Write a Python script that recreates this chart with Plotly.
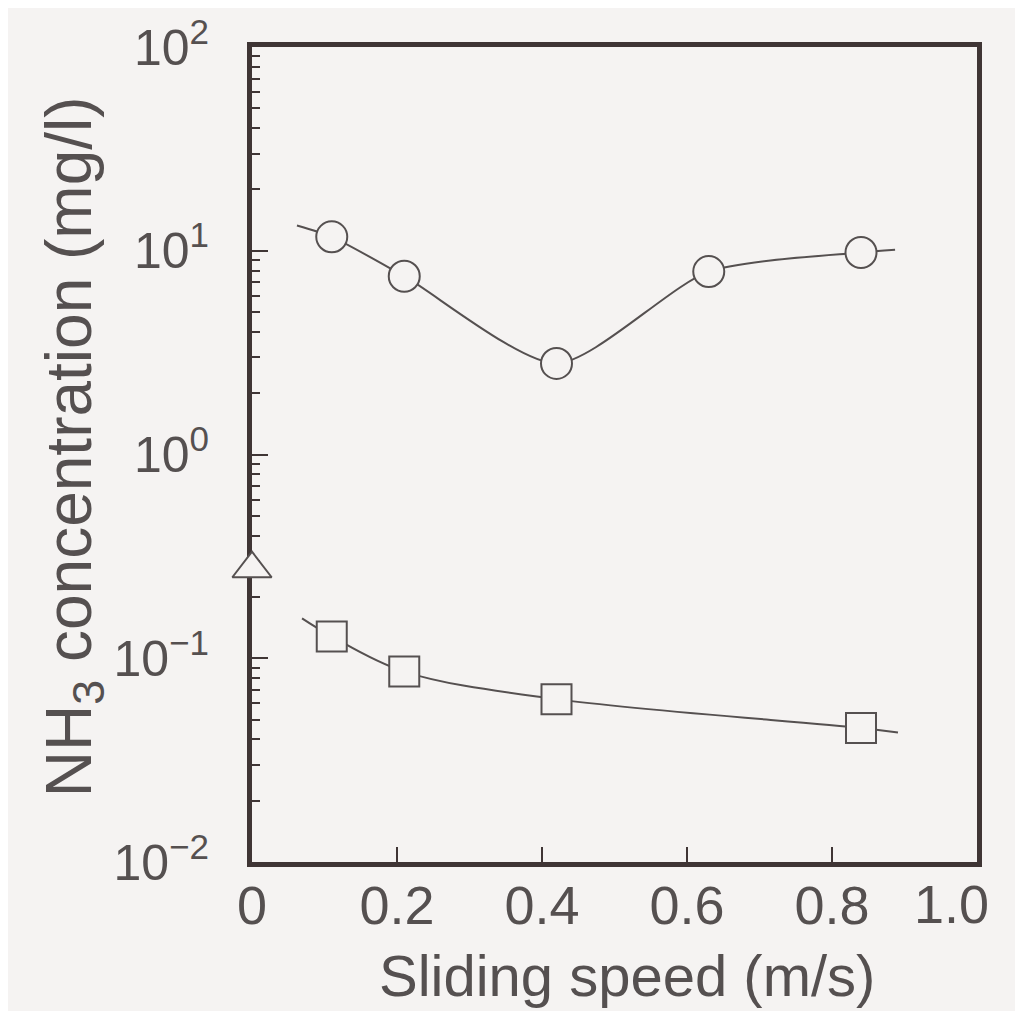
import plotly.graph_objects as go

# ---- data ----
speed_circle = [0.11, 0.21, 0.42, 0.63, 0.84]
conc_circle = [11.7, 7.5, 2.8, 7.9, 9.8]

speed_square = [0.11, 0.21, 0.42, 0.84]
conc_square = [0.128, 0.086, 0.063, 0.0455]

speed_triangle = [0.0]
conc_triangle = [0.275]

# fitted-curve extents (curve drawn through the points, slightly beyond)
curve_circle_x = [0.062, 0.11, 0.21, 0.42, 0.63, 0.84, 0.887]
curve_circle_y = [13.3, 11.7, 7.5, 2.8, 7.9, 9.8, 10.1]
curve_square_x = [0.069, 0.11, 0.21, 0.42, 0.84, 0.891]
curve_square_y = [0.157, 0.128, 0.086, 0.063, 0.0455, 0.0432]

x_tickvals = [0, 0.2, 0.4, 0.6, 0.8, 1.0]
x_ticktext = ["0", "0.2", "0.4", "0.6", "0.8", ""]
x_last_label = "1.0"
y_tickvals = [0.01, 0.1, 1, 10, 100]
y_ticktext = ["10<sup>\u22122</sup>", "10<sup>\u22121</sup>", "10<sup>0</sup>",
              "10<sup>1</sup>", "10<sup>2</sup>"]
y_minor = [m * 10 ** e for e in (-2, -1, 0, 1) for m in range(2, 10)]

x_title = "Sliding speed (m/s)"
y_title = "NH<sub>3</sub> concentration (mg/l)"

BG = "#f5f3f2"
INK = "#555050"
FRAME = "#3f3535"
FONT = "Liberation Sans, Arial, Helvetica, sans-serif"

fig = go.Figure()

fig.add_trace(go.Scatter(x=curve_circle_x, y=curve_circle_y, mode="lines",
                         line=dict(color=INK, width=2, shape="spline", smoothing=0.7),
                         hoverinfo="skip", showlegend=False))
fig.add_trace(go.Scatter(x=curve_square_x, y=curve_square_y, mode="lines",
                         line=dict(color=INK, width=2, shape="spline", smoothing=1.0),
                         hoverinfo="skip", showlegend=False))

fig.add_trace(go.Scatter(x=speed_circle, y=conc_circle, mode="markers",
                         marker=dict(symbol="circle", size=31, color=BG,
                                     line=dict(color=INK, width=2)),
                         showlegend=False))
fig.add_trace(go.Scatter(x=speed_square, y=conc_square, mode="markers",
                         marker=dict(symbol="square", size=30, color=BG,
                                     line=dict(color=INK, width=2)),
                         showlegend=False))
fig.add_trace(go.Scatter(x=speed_triangle, y=conc_triangle, mode="markers",
                         marker=dict(symbol="triangle-up", size=34, color=BG,
                                     line=dict(color=INK, width=2)),
                         cliponaxis=False, showlegend=False))

fig.update_layout(
    width=1007, height=1003,
    margin=dict(l=244, r=38, t=39, b=149, autoexpand=False),
    paper_bgcolor=BG, plot_bgcolor=BG,
    font=dict(family=FONT, color=INK, size=52),
)

fig.update_xaxes(
    range=[0, 1.0], tickvals=x_tickvals, ticktext=x_ticktext,
    ticks="inside", ticklen=15, tickwidth=2, tickcolor=FRAME,
    showline=True, linewidth=5, linecolor=FRAME, mirror=True,
    showgrid=False, zeroline=False, layer="below traces", automargin=False,
    tickfont=dict(size=54, color=INK), ticklabelstandoff=-8,
)
fig.update_yaxes(
    type="log", range=[-2, 2], tickvals=y_tickvals, ticktext=y_ticktext,
    ticks="inside", ticklen=16, tickwidth=2, tickcolor=FRAME,
    minor=dict(tickvals=y_minor, ticks="inside", ticklen=8, tickwidth=2, tickcolor=FRAME),
    showline=True, linewidth=5, linecolor=FRAME, mirror=True,
    showgrid=False, zeroline=False, layer="below traces", automargin=False,
    tickfont=dict(size=50, color=INK), ticklabelstandoff=28,
)

# last x tick label, nudged left as in the reference
fig.add_annotation(x=1.0, xref="x", y=0, yref="paper", text=x_last_label,
                   showarrow=False, xanchor="center", yanchor="top",
                   xshift=-26, yshift=-10, font=dict(size=54, color=INK))
# axis titles
fig.add_annotation(x=0.517, xref="paper", y=0, yref="paper", text=x_title,
                   showarrow=False, xanchor="center", yanchor="middle",
                   yshift=-113, font=dict(size=58, color=INK))
fig.add_annotation(x=0, xref="paper", y=0.509, yref="paper", text=y_title,
                   showarrow=False, textangle=-90, xanchor="center", yanchor="middle",
                   xshift=-179, font=dict(size=64, color=INK))

fig.write_html("out.html")
